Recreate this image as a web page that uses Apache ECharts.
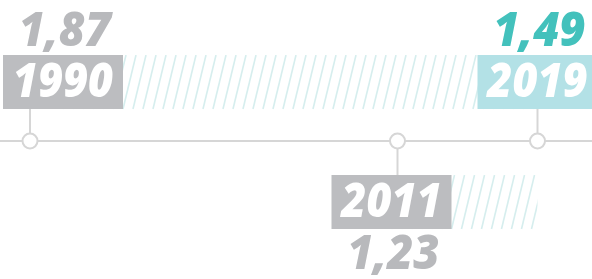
<!DOCTYPE html>
<html>
<head>
<meta charset="utf-8">
<script src="https://cdn.jsdelivr.net/npm/echarts@6/dist/echarts.min.js"></script>
<style>
  html, body { margin: 0; padding: 0; background: #fff; }
  #chart { width: 592px; height: 279px; }
</style>
</head>
<body>
<div id="chart"></div>
<script>
// timeline data
var years = [1990, 2011, 2019];
var values = [1.87, 1.23, 1.49];
var sides = ['up', 'down', 'up'];

// layout (box centre shift from the marker, px)
var boxShift = [33, -6, 0];

var gray = '#bcbdc0', grayText = '#b8b9bc';
var teal = '#b3e1e6', tealText = '#43c1bc';
var hatchColor = '#d6eeee', lineColor = '#d6d6d6';
var fontFam = '"Open Sans", sans-serif';

function fmt(v) { return v.toFixed(2).replace('.', ','); }

var chart = echarts.init(document.getElementById('chart'));

function renderItem(params, api) {
  var i = params.dataIndex;
  var p = api.coord([api.value(0), 0]);
  var last = api.coord([years[years.length - 1], 0]);
  var up = sides[i] === 'up';
  var hl = i === years.length - 1;
  var bw = 120, bh = 54, r = 7.5;
  var cx = p[0] + boxShift[i];
  var bx = cx - bw / 2;
  var by = up ? p[1] - 86 : p[1] + 34;
  var kids = [];

  if (!hl) {
    var hs = cx, he = last[0];
    var lines = [];
    for (var x = hs - 20; x < he + 20; x += 10) {
      lines.push({
        type: 'line',
        shape: { x1: x, y1: by + bh, x2: x + 13, y2: by },
        style: { stroke: hatchColor, lineWidth: 1.6 }
      });
    }
    kids.push({
      type: 'group',
      children: lines,
      clipPath: { type: 'rect', shape: { x: hs, y: by, width: he - hs, height: bh + 1 } }
    });
  }

  // connector
  kids.push({
    type: 'line',
    shape: up ? { x1: p[0], y1: by + bh, x2: p[0], y2: p[1] - r }
              : { x1: p[0], y1: p[1] + r, x2: p[0], y2: by },
    style: { stroke: lineColor, lineWidth: 2 }
  });
  kids.push({
    type: 'circle',
    shape: { cx: p[0], cy: p[1], r: r },
    style: { fill: '#fff', stroke: lineColor, lineWidth: 2 }
  });
  kids.push({
    type: 'rect',
    shape: { x: bx, y: by, width: bw, height: bh },
    style: { fill: hl ? teal : gray }
  });
  kids.push({
    type: 'text',
    x: cx, y: by + bh / 2 + 2,
    scaleX: 0.92, originX: 0,
    style: {
      text: String(years[i]),
      font: 'italic 800 47px ' + fontFam,
      fill: '#fff',
      textAlign: 'center',
      textVerticalAlign: 'middle'
    }
  });
  var rx = cx + 48;
  kids.push({
    type: 'text',
    x: rx, y: up ? by - 22 : by + bh + 27,
    scaleX: 0.96, originX: 0,
    style: {
      text: fmt(values[i]),
      font: 'italic 800 47px ' + fontFam,
      fill: hl ? tealText : grayText,
      textAlign: 'right',
      textVerticalAlign: 'middle'
    }
  });
  return { type: 'group', children: kids };
}

var option = {
  animation: false,
  grid: { left: 0, right: 0, top: 3, bottom: 0 },
  xAxis: {
    type: 'value',
    min: 1990 - 30 / 17.5,
    max: 1990 + 562 / 17.5,
    axisLine: { show: true, onZero: true, lineStyle: { color: lineColor, width: 2 } },
    axisTick: { show: false },
    axisLabel: { show: false },
    splitLine: { show: false }
  },
  yAxis: {
    type: 'value', min: -1, max: 1, show: false
  },
  series: [{
    type: 'custom',
    renderItem: renderItem,
    clip: false,
    data: years.map(function (y, i) { return [y, values[i]]; })
  }]
};
chart.setOption(option);
</script>
</body>
</html>
